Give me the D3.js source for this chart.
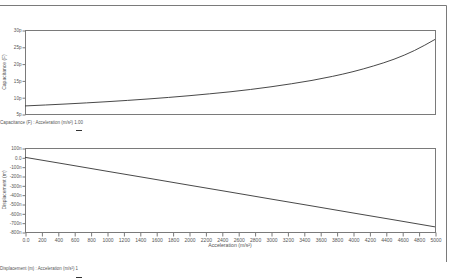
<!DOCTYPE html>
<html><head><meta charset="utf-8">
<script src="https://cdn.jsdelivr.net/npm/d3@7"></script>
<style>body{margin:0;background:#fff}svg{display:block}text{font-family:"Liberation Sans",Arial,sans-serif;fill:#555}</style>
</head><body><svg id="c" width="449" height="280"></svg>
<script>
const accel = [0,250,500,750,1000,1250,1500,1750,2000,2250,2500,2750,3000,3250,3500,3750,4000,4250,4500,4750,5000];
const capacitance = [7.4,7.68,7.98,8.31,8.66,9.05,9.47,9.93,10.44,11.0,11.6,12.3,13.1,14.0,15.0,16.2,17.6,19.3,21.3,23.9,27.2]; // pF
const accelD = [0,500,1000,1500,2000,2500,3000,3500,4000,4500,5000];
const displacement = [0,-74,-149,-223,-298,-372,-447,-521,-596,-670,-745]; // nm
const capTicks = [5,10,15,20,25,30];
const capTickLabels = ["5p","10p","15p","20p","25p","30p"];
const dispTicks = [100,0,-100,-200,-300,-400,-500,-600,-700,-800];
const dispTickLabels = ["100n","0.0","-100n","-200n","-300n","-400n","-500n","-600n","-700n","-800n"];
const xTicks = d3.range(0,5001,200);
const xTickLabels = xTicks.map(v => v===0 ? "0.0" : String(v));

const svg = d3.select("#c");
const gray = "#7a7a7a";
svg.append("path").attr("d","M0,5.5H446.5V262").attr("fill","none").attr("stroke",gray).attr("stroke-width",1);

const L = 25, R = 435;
const x = d3.scaleLinear().domain([0,5000]).range([L,R]);

function panel(top, bottom, yDomain, ticks, labels, title, data, xs) {
  const y = d3.scaleLinear().domain(yDomain).range([bottom, top]);
  svg.append("rect").attr("x",L+0.5).attr("y",top+0.5).attr("width",R-L).attr("height",bottom-top)
    .attr("fill","none").attr("stroke",gray).attr("stroke-width",1);
  const ax = d3.axisLeft(y).tickValues(ticks).tickFormat((d,i)=>labels[i]).tickSize(3).tickPadding(1);
  const g = svg.append("g").attr("transform",`translate(${L+0.5},0.5)`).call(ax);
  g.select(".domain").remove();
  g.selectAll("line").attr("stroke",gray);
  g.selectAll("text").attr("font-size",4.6).style("fill","#555");
  svg.append("text").attr("transform",`translate(5,${(top+bottom)/2}) rotate(-90)`)
    .attr("text-anchor","middle").attr("font-size",5).attr("dominant-baseline","middle").text(title);
  const line = d3.line().x((d,i)=>x(xs[i])).y(d=>y(d)).curve(d3.curveMonotoneX);
  svg.append("path").datum(data).attr("d",line).attr("fill","none").attr("stroke","#333").attr("stroke-width",0.9);
  return y;
}

panel(30, 114, [5,30], capTicks, capTickLabels, "Capacitance (F)", capacitance, accel);
panel(148, 232, [-800,100], dispTicks, dispTickLabels, "Displacement (m)", displacement, accelD);

const xa = d3.axisBottom(x).tickValues(xTicks).tickFormat((d,i)=>xTickLabels[i]).tickSize(4).tickPadding(1.5);
const gx = svg.append("g").attr("transform",`translate(0.5,232.5)`).call(xa);
gx.select(".domain").remove();
gx.selectAll("line").attr("stroke",gray);
gx.selectAll("text").attr("font-size",5).style("fill","#555");
svg.append("text").attr("x",230).attr("y",246.5).attr("text-anchor","middle").attr("font-size",5.2).text("Acceleration (m/s²)");

svg.append("text").attr("x",0).attr("y",123.5).attr("font-size",5.5).attr("textLength",83).attr("lengthAdjust","spacingAndGlyphs").text("Capacitance (F) : Acceleration (m/s²)  1.00");
svg.append("line").attr("x1",76).attr("x2",82).attr("y1",130.5).attr("y2",130.5).attr("stroke","#333");
svg.append("text").attr("x",0).attr("y",270).attr("font-size",5.5).attr("textLength",78).attr("lengthAdjust","spacingAndGlyphs").text("Displacement (m) : Acceleration (m/s²)  1");
svg.append("line").attr("x1",76).attr("x2",82).attr("y1",277.5).attr("y2",277.5).attr("stroke","#333");
</script></body></html>
